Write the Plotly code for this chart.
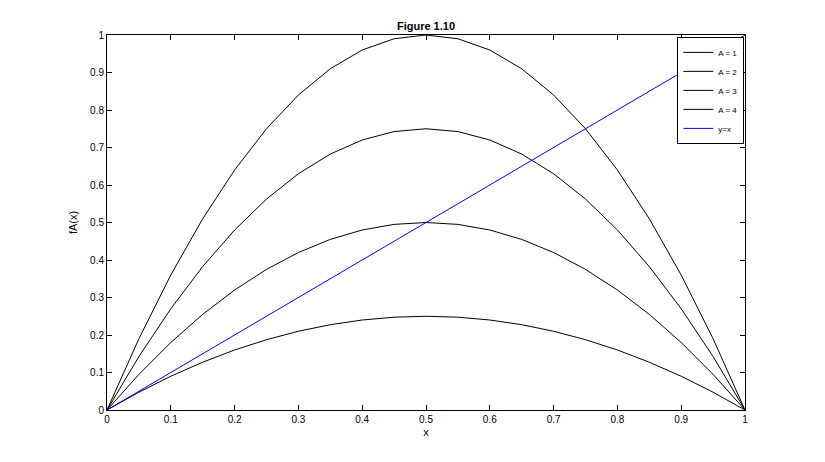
import plotly.graph_objects as go

x = [0, 0.05, 0.1, 0.15, 0.2, 0.25, 0.3, 0.35, 0.4, 0.45, 0.5,
     0.55, 0.6, 0.65, 0.7, 0.75, 0.8, 0.85, 0.9, 0.95, 1]
a1 = [0, 0.0475, 0.09, 0.1275, 0.16, 0.1875, 0.21, 0.2275, 0.24, 0.2475, 0.25,
      0.2475, 0.24, 0.2275, 0.21, 0.1875, 0.16, 0.1275, 0.09, 0.0475, 0]
a2 = [0, 0.095, 0.18, 0.255, 0.32, 0.375, 0.42, 0.455, 0.48, 0.495, 0.5,
      0.495, 0.48, 0.455, 0.42, 0.375, 0.32, 0.255, 0.18, 0.095, 0]
a3 = [0, 0.1425, 0.27, 0.3825, 0.48, 0.5625, 0.63, 0.6825, 0.72, 0.7425, 0.75,
      0.7425, 0.72, 0.6825, 0.63, 0.5625, 0.48, 0.3825, 0.27, 0.1425, 0]
a4 = [0, 0.19, 0.36, 0.51, 0.64, 0.75, 0.84, 0.91, 0.96, 0.99, 1,
      0.99, 0.96, 0.91, 0.84, 0.75, 0.64, 0.51, 0.36, 0.19, 0]
line_x = [0, 1]
line_y = [0, 1]
names = ["A = 1", "A = 2", "A = 3", "A = 4"]

fig = go.Figure()
for n, s in zip(names, [a1, a2, a3, a4]):
    fig.add_trace(go.Scatter(x=x, y=s, mode="lines", name=n,
                             line=dict(color="black", width=1)))
fig.add_trace(go.Scatter(x=line_x, y=line_y, mode="lines", name="y=x",
                         line=dict(color="#0000ff", width=1)))

ax = dict(showgrid=False, zeroline=False, showline=True, linecolor="black",
          linewidth=1, mirror="ticks", ticks="inside", ticklen=5,
          tickcolor="black", range=[0, 1], dtick=0.1,
          tickfont=dict(size=10, color="black"))
fig.update_layout(
    width=825, height=462, paper_bgcolor="white", plot_bgcolor="white",
    margin=dict(l=99, r=88, t=27, b=60),
    font=dict(family="Arial, Liberation Sans", color="black"),
    title=dict(text="<b>Figure 1.10</b>", x=0.5, xanchor="center",
               xref="paper", yref="paper", y=1, yanchor="bottom",
               pad=dict(b=5), font=dict(size=11, color="black")),
    xaxis=dict(ax, title=dict(text="x", font=dict(size=11), standoff=4),
               tickformat="~g"),
    yaxis=dict(ax, title=dict(text="fA(x)", font=dict(size=11), standoff=10),
               tickformat="~g"),
    legend=dict(x=0.999, y=0.995, xanchor="right", yanchor="top",
                bgcolor="white", bordercolor="black", borderwidth=1,
                font=dict(size=8), tracegroupgap=0, itemwidth=30),
    showlegend=True,
)
fig.write_html("out.html")
